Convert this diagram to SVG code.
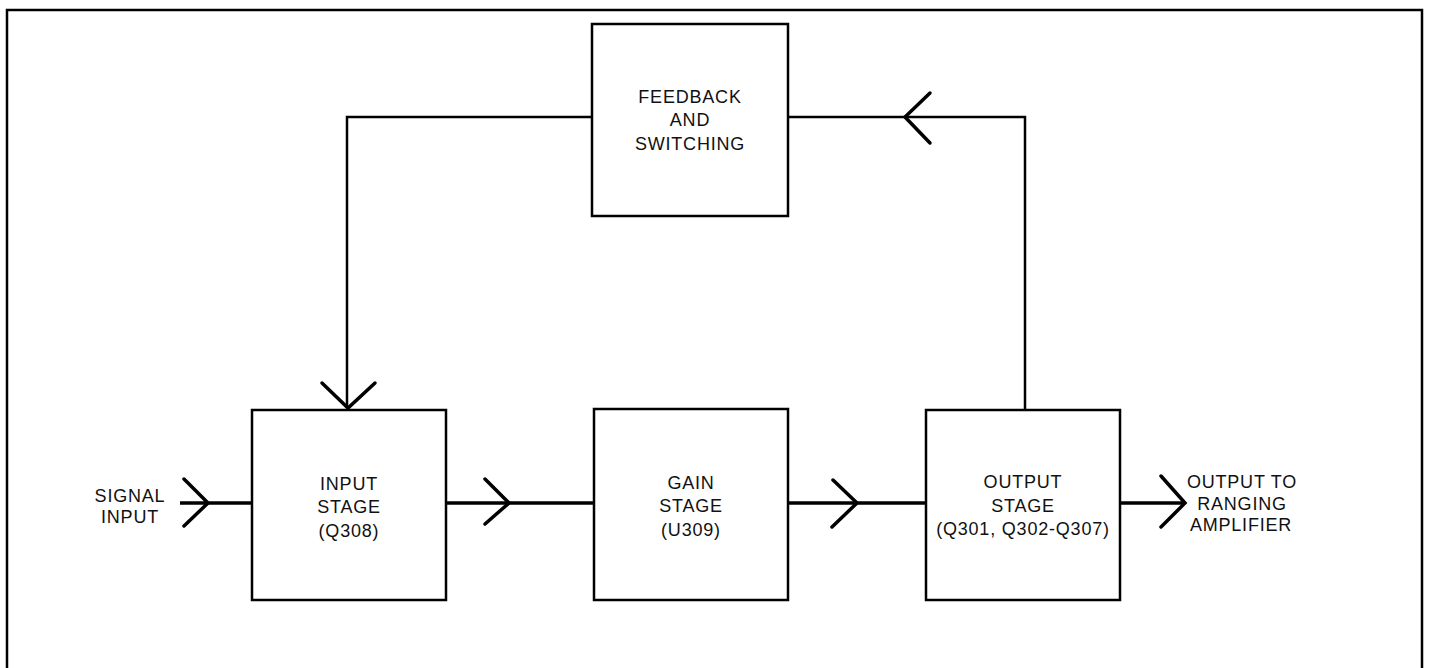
<svg xmlns="http://www.w3.org/2000/svg" width="1430" height="668" viewBox="0 0 1430 668">
<style>
.bg{fill:#ffffff}
.frame{fill:none;stroke:#000;stroke-width:2.5}
.box{fill:none;stroke:#000;stroke-width:2.5}
.wire{fill:none;stroke:#000;stroke-width:2.5}
.main{fill:none;stroke:#000;stroke-width:3.5}
.arrow{fill:none;stroke:#000;stroke-width:3.5;stroke-linecap:round;stroke-linejoin:miter}
.t{font-family:"Liberation Sans",Arial,sans-serif;font-size:18px;letter-spacing:0.8px;fill:#111;text-anchor:middle}
</style>
<rect class="bg" x="0" y="0" width="1430" height="668"/>
<path class="frame" d="M7,668 V10 H1422 V668"/>
<g id="connectors">
  <!-- signal path -->
  <path class="main" d="M180,503 H252"/>
  <path class="arrow" d="M184,479 L208,503 L184,526"/>
  <path class="main" d="M446,503 H594"/>
  <path class="arrow" d="M485,479 L509,503 L485,524"/>
  <path class="main" d="M788,503 H926"/>
  <path class="arrow" d="M833,480 L857,503 L832,527"/>
  <path class="main" d="M1120,503 H1185"/>
  <path class="arrow" d="M1161,476 L1185,503 L1161,527"/>
  <!-- feedback loop -->
  <path class="wire" d="M1025,410 V117 H788"/>
  <path class="arrow" d="M930,93 L905,117 L930,143"/>
  <path class="wire" d="M592,117 H347 V408"/>
  <path class="arrow" d="M322,383 L348,408 L375,383"/>
</g>
<g id="feedback">
  <rect class="box" x="592" y="24" width="196" height="192"/>
  <text class="t" x="690" y="103">FEEDBACK</text>
  <text class="t" x="690" y="126">AND</text>
  <text class="t" x="690" y="150">SWITCHING</text>
</g>
<g id="input-stage">
  <rect class="box" x="252" y="410" width="194" height="190"/>
  <text class="t" x="349" y="490">INPUT</text>
  <text class="t" x="349" y="513">STAGE</text>
  <text class="t" x="349" y="537">(Q308)</text>
</g>
<g id="gain-stage">
  <rect class="box" x="594" y="409" width="194" height="191"/>
  <text class="t" x="691" y="489">GAIN</text>
  <text class="t" x="691" y="512">STAGE</text>
  <text class="t" x="691" y="536">(U309)</text>
</g>
<g id="output-stage">
  <rect class="box" x="926" y="410" width="194" height="190"/>
  <text class="t" x="1023" y="488">OUTPUT</text>
  <text class="t" x="1023" y="512">STAGE</text>
  <text class="t" x="1023" y="535">(Q301, Q302-Q307)</text>
</g>
<g id="signal-input">
  <text class="t" x="130" y="502">SIGNAL</text>
  <text class="t" x="130" y="523">INPUT</text>
</g>
<g id="output-label">
  <text class="t" x="1242" y="488">OUTPUT TO</text>
  <text class="t" x="1242" y="510">RANGING</text>
  <text class="t" x="1241" y="531">AMPLIFIER</text>
</g>
</svg>
